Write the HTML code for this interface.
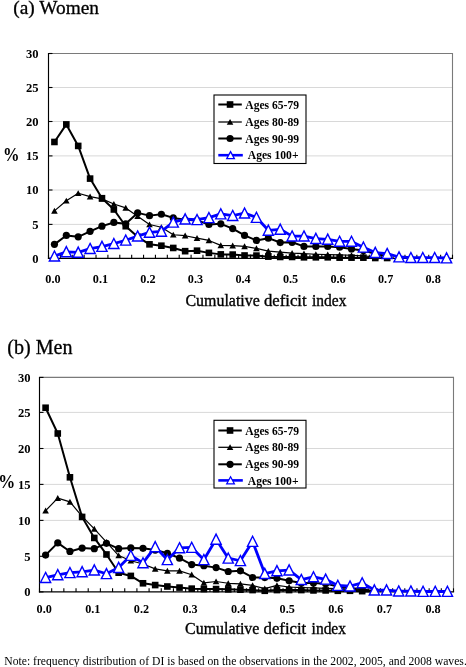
<!DOCTYPE html>
<html><head><meta charset="utf-8"><title>Cumulative deficit index</title>
<style>
html,body{margin:0;padding:0;background:#fff;}
body{width:466px;height:667px;overflow:hidden;position:relative;}
svg{position:absolute;left:0;top:0;display:block;}
text{font-family:"Liberation Serif","Times New Roman",serif;fill:#000;}
.yl{font-size:12.6px;font-weight:bold;}
.xl{font-size:12.2px;font-weight:bold;}
.lg{font-size:11.6px;font-weight:bold;}
.t1{font-size:19.35px;stroke:#000;stroke-width:0.3px;}
.t2{font-size:20.1px;stroke:#000;stroke-width:0.3px;}
.ax{font-size:16.1px;stroke:#000;stroke-width:0.35px;}
.pc{font-size:16.5px;font-weight:bold;}
.nt{font-size:11.65px;}
</style></head><body>
<svg width="466" height="667" viewBox="0 0 466 667">
<rect width="466" height="667" fill="#fff"/>
<text class="t1" x="13.3" y="14.4">(a) Women</text>
<line x1="49.50" y1="87.50" x2="452.50" y2="87.50" stroke="#d8d8d8" stroke-width="1"/>
<line x1="49.50" y1="121.50" x2="452.50" y2="121.50" stroke="#d8d8d8" stroke-width="1"/>
<line x1="49.50" y1="155.90" x2="452.50" y2="155.90" stroke="#d8d8d8" stroke-width="1"/>
<line x1="49.50" y1="190.00" x2="452.50" y2="190.00" stroke="#d8d8d8" stroke-width="1"/>
<line x1="49.50" y1="224.40" x2="452.50" y2="224.40" stroke="#d8d8d8" stroke-width="1"/>
<path d="M48.50 53.50H452.50V258.30" fill="none" stroke="#7a7a7a" stroke-width="1.1"/>
<path d="M48.50 53.00V258.90" fill="none" stroke="#000" stroke-width="1.15"/>
<path d="M47.90 258.30H453.10" fill="none" stroke="#000" stroke-width="1.3"/>
<line x1="48.50" y1="258.30" x2="52.50" y2="258.30" stroke="#000" stroke-width="1.1"/>
<line x1="48.50" y1="224.40" x2="52.50" y2="224.40" stroke="#000" stroke-width="1.1"/>
<line x1="48.50" y1="190.00" x2="52.50" y2="190.00" stroke="#000" stroke-width="1.1"/>
<line x1="48.50" y1="155.90" x2="52.50" y2="155.90" stroke="#000" stroke-width="1.1"/>
<line x1="48.50" y1="121.50" x2="52.50" y2="121.50" stroke="#000" stroke-width="1.1"/>
<line x1="48.50" y1="87.50" x2="52.50" y2="87.50" stroke="#000" stroke-width="1.1"/>
<line x1="48.50" y1="53.50" x2="52.50" y2="53.50" stroke="#000" stroke-width="1.1"/>
<line x1="48.50" y1="258.30" x2="48.50" y2="254.70" stroke="#000" stroke-width="1.1"/>
<line x1="60.38" y1="258.30" x2="60.38" y2="254.70" stroke="#000" stroke-width="1.1"/>
<line x1="72.26" y1="258.30" x2="72.26" y2="254.70" stroke="#000" stroke-width="1.1"/>
<line x1="84.15" y1="258.30" x2="84.15" y2="254.70" stroke="#000" stroke-width="1.1"/>
<line x1="96.03" y1="258.30" x2="96.03" y2="254.70" stroke="#000" stroke-width="1.1"/>
<line x1="107.91" y1="258.30" x2="107.91" y2="254.70" stroke="#000" stroke-width="1.1"/>
<line x1="119.79" y1="258.30" x2="119.79" y2="254.70" stroke="#000" stroke-width="1.1"/>
<line x1="131.68" y1="258.30" x2="131.68" y2="254.70" stroke="#000" stroke-width="1.1"/>
<line x1="143.56" y1="258.30" x2="143.56" y2="254.70" stroke="#000" stroke-width="1.1"/>
<line x1="155.44" y1="258.30" x2="155.44" y2="254.70" stroke="#000" stroke-width="1.1"/>
<line x1="167.32" y1="258.30" x2="167.32" y2="254.70" stroke="#000" stroke-width="1.1"/>
<line x1="179.21" y1="258.30" x2="179.21" y2="254.70" stroke="#000" stroke-width="1.1"/>
<line x1="191.09" y1="258.30" x2="191.09" y2="254.70" stroke="#000" stroke-width="1.1"/>
<line x1="202.97" y1="258.30" x2="202.97" y2="254.70" stroke="#000" stroke-width="1.1"/>
<line x1="214.85" y1="258.30" x2="214.85" y2="254.70" stroke="#000" stroke-width="1.1"/>
<line x1="226.74" y1="258.30" x2="226.74" y2="254.70" stroke="#000" stroke-width="1.1"/>
<line x1="238.62" y1="258.30" x2="238.62" y2="254.70" stroke="#000" stroke-width="1.1"/>
<line x1="250.50" y1="258.30" x2="250.50" y2="254.70" stroke="#000" stroke-width="1.1"/>
<line x1="262.38" y1="258.30" x2="262.38" y2="254.70" stroke="#000" stroke-width="1.1"/>
<line x1="274.26" y1="258.30" x2="274.26" y2="254.70" stroke="#000" stroke-width="1.1"/>
<line x1="286.15" y1="258.30" x2="286.15" y2="254.70" stroke="#000" stroke-width="1.1"/>
<line x1="298.03" y1="258.30" x2="298.03" y2="254.70" stroke="#000" stroke-width="1.1"/>
<line x1="309.91" y1="258.30" x2="309.91" y2="254.70" stroke="#000" stroke-width="1.1"/>
<line x1="321.79" y1="258.30" x2="321.79" y2="254.70" stroke="#000" stroke-width="1.1"/>
<line x1="333.68" y1="258.30" x2="333.68" y2="254.70" stroke="#000" stroke-width="1.1"/>
<line x1="345.56" y1="258.30" x2="345.56" y2="254.70" stroke="#000" stroke-width="1.1"/>
<line x1="357.44" y1="258.30" x2="357.44" y2="254.70" stroke="#000" stroke-width="1.1"/>
<line x1="369.32" y1="258.30" x2="369.32" y2="254.70" stroke="#000" stroke-width="1.1"/>
<line x1="381.21" y1="258.30" x2="381.21" y2="254.70" stroke="#000" stroke-width="1.1"/>
<line x1="393.09" y1="258.30" x2="393.09" y2="254.70" stroke="#000" stroke-width="1.1"/>
<line x1="404.97" y1="258.30" x2="404.97" y2="254.70" stroke="#000" stroke-width="1.1"/>
<line x1="416.85" y1="258.30" x2="416.85" y2="254.70" stroke="#000" stroke-width="1.1"/>
<line x1="428.74" y1="258.30" x2="428.74" y2="254.70" stroke="#000" stroke-width="1.1"/>
<line x1="440.62" y1="258.30" x2="440.62" y2="254.70" stroke="#000" stroke-width="1.1"/>
<line x1="452.50" y1="258.30" x2="452.50" y2="254.70" stroke="#000" stroke-width="1.1"/>
<polyline points="54.44,141.97 66.32,124.41 78.21,145.93 90.09,178.60 101.97,198.21 113.85,209.48 125.74,226.22 137.62,236.82 149.50,244.33 161.38,245.70 173.26,247.96 185.15,251.17 197.03,250.69 208.91,252.88 220.79,254.38 232.68,254.58 244.56,255.47 256.44,255.61 268.32,256.63 280.21,256.98 292.09,256.98 303.97,257.32 315.85,257.32 327.74,257.32 339.62,257.66 351.50,257.66 363.38,257.66 375.26,258.00 387.15,258.00" fill="none" stroke="#000" stroke-width="2.0" stroke-linejoin="round"/>
<rect x="51.14" y="138.67" width="6.6" height="6.6" fill="#000"/>
<rect x="63.02" y="121.11" width="6.6" height="6.6" fill="#000"/>
<rect x="74.91" y="142.63" width="6.6" height="6.6" fill="#000"/>
<rect x="86.79" y="175.30" width="6.6" height="6.6" fill="#000"/>
<rect x="98.67" y="194.91" width="6.6" height="6.6" fill="#000"/>
<rect x="110.55" y="206.18" width="6.6" height="6.6" fill="#000"/>
<rect x="122.44" y="222.92" width="6.6" height="6.6" fill="#000"/>
<rect x="134.32" y="233.52" width="6.6" height="6.6" fill="#000"/>
<rect x="146.20" y="241.03" width="6.6" height="6.6" fill="#000"/>
<rect x="158.08" y="242.40" width="6.6" height="6.6" fill="#000"/>
<rect x="169.96" y="244.66" width="6.6" height="6.6" fill="#000"/>
<rect x="181.85" y="247.87" width="6.6" height="6.6" fill="#000"/>
<rect x="193.73" y="247.39" width="6.6" height="6.6" fill="#000"/>
<rect x="205.61" y="249.57" width="6.6" height="6.6" fill="#000"/>
<rect x="217.49" y="251.08" width="6.6" height="6.6" fill="#000"/>
<rect x="229.38" y="251.28" width="6.6" height="6.6" fill="#000"/>
<rect x="241.26" y="252.17" width="6.6" height="6.6" fill="#000"/>
<rect x="253.14" y="252.31" width="6.6" height="6.6" fill="#000"/>
<rect x="265.02" y="253.33" width="6.6" height="6.6" fill="#000"/>
<rect x="276.91" y="253.68" width="6.6" height="6.6" fill="#000"/>
<rect x="288.79" y="253.68" width="6.6" height="6.6" fill="#000"/>
<rect x="300.67" y="254.02" width="6.6" height="6.6" fill="#000"/>
<rect x="312.55" y="254.02" width="6.6" height="6.6" fill="#000"/>
<rect x="324.44" y="254.02" width="6.6" height="6.6" fill="#000"/>
<rect x="336.32" y="254.36" width="6.6" height="6.6" fill="#000"/>
<rect x="348.20" y="254.36" width="6.6" height="6.6" fill="#000"/>
<rect x="360.08" y="254.36" width="6.6" height="6.6" fill="#000"/>
<rect x="371.96" y="254.70" width="6.6" height="6.6" fill="#000"/>
<rect x="383.85" y="254.70" width="6.6" height="6.6" fill="#000"/>
<polyline points="54.44,210.85 66.32,200.81 78.21,193.29 90.09,196.70 101.97,198.89 113.85,204.02 125.74,207.91 137.62,216.32 149.50,224.52 161.38,227.25 173.26,234.77 185.15,235.72 197.03,238.18 208.91,240.44 220.79,245.36 232.68,245.70 244.56,246.38 256.44,248.43 268.32,251.17 280.21,252.19 292.09,253.22 303.97,253.69 315.85,254.24 327.74,254.58 339.62,254.93 351.50,255.27 363.38,255.95 375.26,256.98 387.15,257.66" fill="none" stroke="#000" stroke-width="1.2" stroke-linejoin="round"/>
<path d="M54.44 207.75L57.74 213.65H51.14Z" fill="#000"/>
<path d="M66.32 197.71L69.62 203.61H63.02Z" fill="#000"/>
<path d="M78.21 190.19L81.51 196.09H74.91Z" fill="#000"/>
<path d="M90.09 193.60L93.39 199.50H86.79Z" fill="#000"/>
<path d="M101.97 195.79L105.27 201.69H98.67Z" fill="#000"/>
<path d="M113.85 200.92L117.15 206.82H110.55Z" fill="#000"/>
<path d="M125.74 204.81L129.04 210.71H122.44Z" fill="#000"/>
<path d="M137.62 213.22L140.92 219.12H134.32Z" fill="#000"/>
<path d="M149.50 221.42L152.80 227.32H146.20Z" fill="#000"/>
<path d="M161.38 224.15L164.68 230.05H158.08Z" fill="#000"/>
<path d="M173.26 231.67L176.56 237.57H169.96Z" fill="#000"/>
<path d="M185.15 232.62L188.45 238.52H181.85Z" fill="#000"/>
<path d="M197.03 235.08L200.33 240.98H193.73Z" fill="#000"/>
<path d="M208.91 237.34L212.21 243.24H205.61Z" fill="#000"/>
<path d="M220.79 242.26L224.09 248.16H217.49Z" fill="#000"/>
<path d="M232.68 242.60L235.98 248.50H229.38Z" fill="#000"/>
<path d="M244.56 243.28L247.86 249.18H241.26Z" fill="#000"/>
<path d="M256.44 245.33L259.74 251.23H253.14Z" fill="#000"/>
<path d="M268.32 248.07L271.62 253.97H265.02Z" fill="#000"/>
<path d="M280.21 249.09L283.51 254.99H276.91Z" fill="#000"/>
<path d="M292.09 250.12L295.39 256.02H288.79Z" fill="#000"/>
<path d="M303.97 250.59L307.27 256.50H300.67Z" fill="#000"/>
<path d="M315.85 251.14L319.15 257.04H312.55Z" fill="#000"/>
<path d="M327.74 251.48L331.04 257.38H324.44Z" fill="#000"/>
<path d="M339.62 251.83L342.92 257.73H336.32Z" fill="#000"/>
<path d="M351.50 252.17L354.80 258.07H348.20Z" fill="#000"/>
<path d="M363.38 252.85L366.68 258.75H360.08Z" fill="#000"/>
<path d="M375.26 253.88L378.56 259.78H371.96Z" fill="#000"/>
<path d="M387.15 254.56L390.45 260.46H383.85Z" fill="#000"/>
<polyline points="54.44,244.33 66.32,235.45 78.21,236.82 90.09,231.35 101.97,226.16 113.85,222.47 125.74,223.83 137.62,212.90 149.50,215.63 161.38,214.27 173.26,217.89 185.15,219.73 197.03,220.42 208.91,224.52 220.79,223.83 232.68,228.62 244.56,235.45 256.44,240.44 268.32,238.18 280.21,242.56 292.09,242.28 303.97,246.38 315.85,246.38 327.74,246.38 339.62,247.20 351.50,248.91 363.38,250.48 375.26,253.90 387.15,255.95" fill="none" stroke="#000" stroke-width="2.0" stroke-linejoin="round"/>
<circle cx="54.44" cy="244.33" r="3.6" fill="#000"/>
<circle cx="66.32" cy="235.45" r="3.6" fill="#000"/>
<circle cx="78.21" cy="236.82" r="3.6" fill="#000"/>
<circle cx="90.09" cy="231.35" r="3.6" fill="#000"/>
<circle cx="101.97" cy="226.16" r="3.6" fill="#000"/>
<circle cx="113.85" cy="222.47" r="3.6" fill="#000"/>
<circle cx="125.74" cy="223.83" r="3.6" fill="#000"/>
<circle cx="137.62" cy="212.90" r="3.6" fill="#000"/>
<circle cx="149.50" cy="215.63" r="3.6" fill="#000"/>
<circle cx="161.38" cy="214.27" r="3.6" fill="#000"/>
<circle cx="173.26" cy="217.89" r="3.6" fill="#000"/>
<circle cx="185.15" cy="219.73" r="3.6" fill="#000"/>
<circle cx="197.03" cy="220.42" r="3.6" fill="#000"/>
<circle cx="208.91" cy="224.52" r="3.6" fill="#000"/>
<circle cx="220.79" cy="223.83" r="3.6" fill="#000"/>
<circle cx="232.68" cy="228.62" r="3.6" fill="#000"/>
<circle cx="244.56" cy="235.45" r="3.6" fill="#000"/>
<circle cx="256.44" cy="240.44" r="3.6" fill="#000"/>
<circle cx="268.32" cy="238.18" r="3.6" fill="#000"/>
<circle cx="280.21" cy="242.56" r="3.6" fill="#000"/>
<circle cx="292.09" cy="242.28" r="3.6" fill="#000"/>
<circle cx="303.97" cy="246.38" r="3.6" fill="#000"/>
<circle cx="315.85" cy="246.38" r="3.6" fill="#000"/>
<circle cx="327.74" cy="246.38" r="3.6" fill="#000"/>
<circle cx="339.62" cy="247.20" r="3.6" fill="#000"/>
<circle cx="351.50" cy="248.91" r="3.6" fill="#000"/>
<circle cx="363.38" cy="250.48" r="3.6" fill="#000"/>
<circle cx="375.26" cy="253.90" r="3.6" fill="#000"/>
<circle cx="387.15" cy="255.95" r="3.6" fill="#000"/>
<polyline points="54.44,256.15 66.32,251.85 78.21,252.33 90.09,248.64 101.97,246.52 113.85,243.65 125.74,240.23 137.62,236.13 149.50,232.31 161.38,231.35 173.26,222.19 185.15,219.05 197.03,219.73 208.91,217.68 220.79,213.93 232.68,215.63 244.56,213.17 256.44,217.48 268.32,230.32 280.21,229.30 292.09,236.13 303.97,236.13 315.85,238.59 327.74,239.28 339.62,241.40 351.50,241.40 363.38,247.20 375.26,252.53 387.15,253.63 399.03,256.98 410.91,257.66 422.79,257.66 434.68,257.66 446.56,258.00" fill="none" stroke="#0000ff" stroke-width="2.8" stroke-linejoin="round"/>
<path d="M54.44 250.95L59.54 261.05H49.34Z" fill="#fff" stroke="#0000ff" stroke-width="1.4" stroke-linejoin="miter"/>
<path d="M66.32 246.65L71.42 256.75H61.22Z" fill="#fff" stroke="#0000ff" stroke-width="1.4" stroke-linejoin="miter"/>
<path d="M78.21 247.13L83.31 257.23H73.11Z" fill="#fff" stroke="#0000ff" stroke-width="1.4" stroke-linejoin="miter"/>
<path d="M90.09 243.44L95.19 253.54H84.99Z" fill="#fff" stroke="#0000ff" stroke-width="1.4" stroke-linejoin="miter"/>
<path d="M101.97 241.32L107.07 251.42H96.87Z" fill="#fff" stroke="#0000ff" stroke-width="1.4" stroke-linejoin="miter"/>
<path d="M113.85 238.45L118.95 248.55H108.75Z" fill="#fff" stroke="#0000ff" stroke-width="1.4" stroke-linejoin="miter"/>
<path d="M125.74 235.03L130.84 245.13H120.64Z" fill="#fff" stroke="#0000ff" stroke-width="1.4" stroke-linejoin="miter"/>
<path d="M137.62 230.93L142.72 241.03H132.52Z" fill="#fff" stroke="#0000ff" stroke-width="1.4" stroke-linejoin="miter"/>
<path d="M149.50 227.11L154.60 237.21H144.40Z" fill="#fff" stroke="#0000ff" stroke-width="1.4" stroke-linejoin="miter"/>
<path d="M161.38 226.15L166.48 236.25H156.28Z" fill="#fff" stroke="#0000ff" stroke-width="1.4" stroke-linejoin="miter"/>
<path d="M173.26 216.99L178.36 227.09H168.16Z" fill="#fff" stroke="#0000ff" stroke-width="1.4" stroke-linejoin="miter"/>
<path d="M185.15 213.85L190.25 223.95H180.05Z" fill="#fff" stroke="#0000ff" stroke-width="1.4" stroke-linejoin="miter"/>
<path d="M197.03 214.53L202.13 224.63H191.93Z" fill="#fff" stroke="#0000ff" stroke-width="1.4" stroke-linejoin="miter"/>
<path d="M208.91 212.48L214.01 222.58H203.81Z" fill="#fff" stroke="#0000ff" stroke-width="1.4" stroke-linejoin="miter"/>
<path d="M220.79 208.73L225.89 218.83H215.69Z" fill="#fff" stroke="#0000ff" stroke-width="1.4" stroke-linejoin="miter"/>
<path d="M232.68 210.43L237.78 220.53H227.58Z" fill="#fff" stroke="#0000ff" stroke-width="1.4" stroke-linejoin="miter"/>
<path d="M244.56 207.97L249.66 218.07H239.46Z" fill="#fff" stroke="#0000ff" stroke-width="1.4" stroke-linejoin="miter"/>
<path d="M256.44 212.28L261.54 222.38H251.34Z" fill="#fff" stroke="#0000ff" stroke-width="1.4" stroke-linejoin="miter"/>
<path d="M268.32 225.12L273.42 235.22H263.22Z" fill="#fff" stroke="#0000ff" stroke-width="1.4" stroke-linejoin="miter"/>
<path d="M280.21 224.10L285.31 234.20H275.11Z" fill="#fff" stroke="#0000ff" stroke-width="1.4" stroke-linejoin="miter"/>
<path d="M292.09 230.93L297.19 241.03H286.99Z" fill="#fff" stroke="#0000ff" stroke-width="1.4" stroke-linejoin="miter"/>
<path d="M303.97 230.93L309.07 241.03H298.87Z" fill="#fff" stroke="#0000ff" stroke-width="1.4" stroke-linejoin="miter"/>
<path d="M315.85 233.39L320.95 243.49H310.75Z" fill="#fff" stroke="#0000ff" stroke-width="1.4" stroke-linejoin="miter"/>
<path d="M327.74 234.08L332.84 244.18H322.64Z" fill="#fff" stroke="#0000ff" stroke-width="1.4" stroke-linejoin="miter"/>
<path d="M339.62 236.20L344.72 246.30H334.52Z" fill="#fff" stroke="#0000ff" stroke-width="1.4" stroke-linejoin="miter"/>
<path d="M351.50 236.20L356.60 246.30H346.40Z" fill="#fff" stroke="#0000ff" stroke-width="1.4" stroke-linejoin="miter"/>
<path d="M363.38 242.00L368.48 252.10H358.28Z" fill="#fff" stroke="#0000ff" stroke-width="1.4" stroke-linejoin="miter"/>
<path d="M375.26 247.33L380.36 257.43H370.16Z" fill="#fff" stroke="#0000ff" stroke-width="1.4" stroke-linejoin="miter"/>
<path d="M387.15 248.43L392.25 258.53H382.05Z" fill="#fff" stroke="#0000ff" stroke-width="1.4" stroke-linejoin="miter"/>
<path d="M399.03 251.78L404.13 261.88H393.93Z" fill="#fff" stroke="#0000ff" stroke-width="1.4" stroke-linejoin="miter"/>
<path d="M410.91 252.46L416.01 262.56H405.81Z" fill="#fff" stroke="#0000ff" stroke-width="1.4" stroke-linejoin="miter"/>
<path d="M422.79 252.46L427.89 262.56H417.69Z" fill="#fff" stroke="#0000ff" stroke-width="1.4" stroke-linejoin="miter"/>
<path d="M434.68 252.46L439.78 262.56H429.58Z" fill="#fff" stroke="#0000ff" stroke-width="1.4" stroke-linejoin="miter"/>
<path d="M446.56 252.80L451.66 262.90H441.46Z" fill="#fff" stroke="#0000ff" stroke-width="1.4" stroke-linejoin="miter"/>
<rect x="214.00" y="95.00" width="92.00" height="68.50" fill="#fff" stroke="#000" stroke-width="1.1"/>
<line x1="218.3" y1="104.5" x2="241.8" y2="104.5" stroke="#000" stroke-width="2"/>
<rect x="226.75" y="101.20" width="6.6" height="6.6" fill="#000"/>
<text class="lg" x="245.30" y="108.60">Ages 65-79</text>
<line x1="218.3" y1="122" x2="241.8" y2="122" stroke="#000" stroke-width="1.25"/>
<path d="M230.05 118.90L233.35 124.80H226.75Z" fill="#000"/>
<text class="lg" x="245.30" y="126.10">Ages 80-89</text>
<line x1="218.3" y1="138.5" x2="241.8" y2="138.5" stroke="#000" stroke-width="2"/>
<circle cx="230.05" cy="138.50" r="3.6" fill="#000"/>
<text class="lg" x="245.30" y="142.60">Ages 90-99</text>
<line x1="218.3" y1="155.2" x2="242.8" y2="155.2" stroke="#0000ff" stroke-width="2.6"/>
<path d="M230.55 151.60L234.35 158.60H226.75Z" fill="#fff" stroke="#0000ff" stroke-width="1.3"/>
<text class="lg" x="247.80" y="159.30">Ages 100+</text>
<text class="yl" text-anchor="end" x="38.60" y="262.50">0</text>
<text class="yl" text-anchor="end" x="38.60" y="228.60">5</text>
<text class="yl" text-anchor="end" x="38.60" y="194.20">10</text>
<text class="yl" text-anchor="end" x="38.60" y="160.10">15</text>
<text class="yl" text-anchor="end" x="38.60" y="125.70">20</text>
<text class="yl" text-anchor="end" x="38.60" y="91.70">25</text>
<text class="yl" text-anchor="end" x="38.60" y="57.70">30</text>
<text class="xl" text-anchor="middle" x="52.90" y="282.70">0.0</text>
<text class="xl" text-anchor="middle" x="100.43" y="282.70">0.1</text>
<text class="xl" text-anchor="middle" x="147.96" y="282.70">0.2</text>
<text class="xl" text-anchor="middle" x="195.49" y="282.70">0.3</text>
<text class="xl" text-anchor="middle" x="243.02" y="282.70">0.4</text>
<text class="xl" text-anchor="middle" x="290.55" y="282.70">0.5</text>
<text class="xl" text-anchor="middle" x="338.08" y="282.70">0.6</text>
<text class="xl" text-anchor="middle" x="385.61" y="282.70">0.7</text>
<text class="xl" text-anchor="middle" x="433.14" y="282.70">0.8</text>
<text class="pc" transform="translate(3.1,160.7) scale(1,1.13)">%</text>
<text class="ax" x="185.5" y="305.8" textLength="74.3" lengthAdjust="spacingAndGlyphs">Cumulative</text><text class="ax" x="264.0" y="305.8" textLength="42.6" lengthAdjust="spacingAndGlyphs">deficit</text><text class="ax" x="312.0" y="305.8" textLength="34.4" lengthAdjust="spacingAndGlyphs">index</text>
<text class="t2" x="7.2" y="354.4">(b) Men</text>
<line x1="40.50" y1="412.40" x2="453.50" y2="412.40" stroke="#d8d8d8" stroke-width="1"/>
<line x1="40.50" y1="448.50" x2="453.50" y2="448.50" stroke="#d8d8d8" stroke-width="1"/>
<line x1="40.50" y1="484.40" x2="453.50" y2="484.40" stroke="#d8d8d8" stroke-width="1"/>
<line x1="40.50" y1="520.40" x2="453.50" y2="520.40" stroke="#d8d8d8" stroke-width="1"/>
<line x1="40.50" y1="556.30" x2="453.50" y2="556.30" stroke="#d8d8d8" stroke-width="1"/>
<path d="M39.50 377.40H453.50V591.90" fill="none" stroke="#7a7a7a" stroke-width="1.1"/>
<path d="M39.50 376.90V592.50" fill="none" stroke="#000" stroke-width="1.15"/>
<path d="M38.90 591.90H454.10" fill="none" stroke="#000" stroke-width="1.3"/>
<line x1="39.50" y1="591.90" x2="43.50" y2="591.90" stroke="#000" stroke-width="1.1"/>
<line x1="39.50" y1="556.30" x2="43.50" y2="556.30" stroke="#000" stroke-width="1.1"/>
<line x1="39.50" y1="520.40" x2="43.50" y2="520.40" stroke="#000" stroke-width="1.1"/>
<line x1="39.50" y1="484.40" x2="43.50" y2="484.40" stroke="#000" stroke-width="1.1"/>
<line x1="39.50" y1="448.50" x2="43.50" y2="448.50" stroke="#000" stroke-width="1.1"/>
<line x1="39.50" y1="412.40" x2="43.50" y2="412.40" stroke="#000" stroke-width="1.1"/>
<line x1="39.50" y1="377.40" x2="43.50" y2="377.40" stroke="#000" stroke-width="1.1"/>
<line x1="39.50" y1="591.90" x2="39.50" y2="588.30" stroke="#000" stroke-width="1.1"/>
<line x1="51.68" y1="591.90" x2="51.68" y2="588.30" stroke="#000" stroke-width="1.1"/>
<line x1="63.85" y1="591.90" x2="63.85" y2="588.30" stroke="#000" stroke-width="1.1"/>
<line x1="76.03" y1="591.90" x2="76.03" y2="588.30" stroke="#000" stroke-width="1.1"/>
<line x1="88.21" y1="591.90" x2="88.21" y2="588.30" stroke="#000" stroke-width="1.1"/>
<line x1="100.38" y1="591.90" x2="100.38" y2="588.30" stroke="#000" stroke-width="1.1"/>
<line x1="112.56" y1="591.90" x2="112.56" y2="588.30" stroke="#000" stroke-width="1.1"/>
<line x1="124.74" y1="591.90" x2="124.74" y2="588.30" stroke="#000" stroke-width="1.1"/>
<line x1="136.91" y1="591.90" x2="136.91" y2="588.30" stroke="#000" stroke-width="1.1"/>
<line x1="149.09" y1="591.90" x2="149.09" y2="588.30" stroke="#000" stroke-width="1.1"/>
<line x1="161.26" y1="591.90" x2="161.26" y2="588.30" stroke="#000" stroke-width="1.1"/>
<line x1="173.44" y1="591.90" x2="173.44" y2="588.30" stroke="#000" stroke-width="1.1"/>
<line x1="185.62" y1="591.90" x2="185.62" y2="588.30" stroke="#000" stroke-width="1.1"/>
<line x1="197.79" y1="591.90" x2="197.79" y2="588.30" stroke="#000" stroke-width="1.1"/>
<line x1="209.97" y1="591.90" x2="209.97" y2="588.30" stroke="#000" stroke-width="1.1"/>
<line x1="222.15" y1="591.90" x2="222.15" y2="588.30" stroke="#000" stroke-width="1.1"/>
<line x1="234.32" y1="591.90" x2="234.32" y2="588.30" stroke="#000" stroke-width="1.1"/>
<line x1="246.50" y1="591.90" x2="246.50" y2="588.30" stroke="#000" stroke-width="1.1"/>
<line x1="258.68" y1="591.90" x2="258.68" y2="588.30" stroke="#000" stroke-width="1.1"/>
<line x1="270.85" y1="591.90" x2="270.85" y2="588.30" stroke="#000" stroke-width="1.1"/>
<line x1="283.03" y1="591.90" x2="283.03" y2="588.30" stroke="#000" stroke-width="1.1"/>
<line x1="295.21" y1="591.90" x2="295.21" y2="588.30" stroke="#000" stroke-width="1.1"/>
<line x1="307.38" y1="591.90" x2="307.38" y2="588.30" stroke="#000" stroke-width="1.1"/>
<line x1="319.56" y1="591.90" x2="319.56" y2="588.30" stroke="#000" stroke-width="1.1"/>
<line x1="331.74" y1="591.90" x2="331.74" y2="588.30" stroke="#000" stroke-width="1.1"/>
<line x1="343.91" y1="591.90" x2="343.91" y2="588.30" stroke="#000" stroke-width="1.1"/>
<line x1="356.09" y1="591.90" x2="356.09" y2="588.30" stroke="#000" stroke-width="1.1"/>
<line x1="368.26" y1="591.90" x2="368.26" y2="588.30" stroke="#000" stroke-width="1.1"/>
<line x1="380.44" y1="591.90" x2="380.44" y2="588.30" stroke="#000" stroke-width="1.1"/>
<line x1="392.62" y1="591.90" x2="392.62" y2="588.30" stroke="#000" stroke-width="1.1"/>
<line x1="404.79" y1="591.90" x2="404.79" y2="588.30" stroke="#000" stroke-width="1.1"/>
<line x1="416.97" y1="591.90" x2="416.97" y2="588.30" stroke="#000" stroke-width="1.1"/>
<line x1="429.15" y1="591.90" x2="429.15" y2="588.30" stroke="#000" stroke-width="1.1"/>
<line x1="441.32" y1="591.90" x2="441.32" y2="588.30" stroke="#000" stroke-width="1.1"/>
<line x1="453.50" y1="591.90" x2="453.50" y2="588.30" stroke="#000" stroke-width="1.1"/>
<polyline points="45.59,407.75 57.76,433.49 69.94,477.31 82.12,516.93 94.29,537.95 106.47,554.46 118.65,572.70 130.82,575.91 143.00,583.28 155.18,585.07 167.35,586.50 179.53,587.57 191.71,588.64 203.88,589.07 216.06,589.07 228.24,589.36 240.41,589.71 252.59,590.07 264.76,590.78 276.94,590.07 289.12,590.07 301.29,590.07 313.47,590.43 325.65,590.43 337.82,590.78 350.00,590.78 362.18,591.14 374.35,591.50" fill="none" stroke="#000" stroke-width="2.0" stroke-linejoin="round"/>
<rect x="42.29" y="404.44" width="6.6" height="6.6" fill="#000"/>
<rect x="54.46" y="430.19" width="6.6" height="6.6" fill="#000"/>
<rect x="66.64" y="474.01" width="6.6" height="6.6" fill="#000"/>
<rect x="78.82" y="513.63" width="6.6" height="6.6" fill="#000"/>
<rect x="90.99" y="534.65" width="6.6" height="6.6" fill="#000"/>
<rect x="103.17" y="551.16" width="6.6" height="6.6" fill="#000"/>
<rect x="115.35" y="569.40" width="6.6" height="6.6" fill="#000"/>
<rect x="127.52" y="572.61" width="6.6" height="6.6" fill="#000"/>
<rect x="139.70" y="579.98" width="6.6" height="6.6" fill="#000"/>
<rect x="151.88" y="581.77" width="6.6" height="6.6" fill="#000"/>
<rect x="164.05" y="583.20" width="6.6" height="6.6" fill="#000"/>
<rect x="176.23" y="584.27" width="6.6" height="6.6" fill="#000"/>
<rect x="188.41" y="585.34" width="6.6" height="6.6" fill="#000"/>
<rect x="200.58" y="585.77" width="6.6" height="6.6" fill="#000"/>
<rect x="212.76" y="585.77" width="6.6" height="6.6" fill="#000"/>
<rect x="224.94" y="586.06" width="6.6" height="6.6" fill="#000"/>
<rect x="237.11" y="586.41" width="6.6" height="6.6" fill="#000"/>
<rect x="249.29" y="586.77" width="6.6" height="6.6" fill="#000"/>
<rect x="261.46" y="587.49" width="6.6" height="6.6" fill="#000"/>
<rect x="273.64" y="586.77" width="6.6" height="6.6" fill="#000"/>
<rect x="285.82" y="586.77" width="6.6" height="6.6" fill="#000"/>
<rect x="297.99" y="586.77" width="6.6" height="6.6" fill="#000"/>
<rect x="310.17" y="587.13" width="6.6" height="6.6" fill="#000"/>
<rect x="322.35" y="587.13" width="6.6" height="6.6" fill="#000"/>
<rect x="334.52" y="587.49" width="6.6" height="6.6" fill="#000"/>
<rect x="346.70" y="587.49" width="6.6" height="6.6" fill="#000"/>
<rect x="358.88" y="587.84" width="6.6" height="6.6" fill="#000"/>
<rect x="371.05" y="588.20" width="6.6" height="6.6" fill="#000"/>
<polyline points="45.59,510.70 57.76,498.19 69.94,501.91 82.12,516.42 94.29,528.94 106.47,542.16 118.65,555.54 130.82,560.75 143.00,563.97 155.18,568.91 167.35,570.84 179.53,570.84 191.71,574.70 203.88,582.92 216.06,581.49 228.24,583.28 240.41,583.92 252.59,585.42 264.76,588.64 276.94,585.42 289.12,587.00 301.29,587.57 313.47,587.92 325.65,588.28 337.82,588.64 350.00,589.36 362.18,590.07 374.35,590.78" fill="none" stroke="#000" stroke-width="1.2" stroke-linejoin="round"/>
<path d="M45.59 507.60L48.89 513.50H42.29Z" fill="#000"/>
<path d="M57.76 495.09L61.06 500.99H54.46Z" fill="#000"/>
<path d="M69.94 498.81L73.24 504.71H66.64Z" fill="#000"/>
<path d="M82.12 513.32L85.42 519.22H78.82Z" fill="#000"/>
<path d="M94.29 525.84L97.59 531.74H90.99Z" fill="#000"/>
<path d="M106.47 539.06L109.77 544.96H103.17Z" fill="#000"/>
<path d="M118.65 552.44L121.95 558.34H115.35Z" fill="#000"/>
<path d="M130.82 557.65L134.12 563.55H127.52Z" fill="#000"/>
<path d="M143.00 560.87L146.30 566.77H139.70Z" fill="#000"/>
<path d="M155.18 565.81L158.48 571.71H151.88Z" fill="#000"/>
<path d="M167.35 567.74L170.65 573.64H164.05Z" fill="#000"/>
<path d="M179.53 567.74L182.83 573.64H176.23Z" fill="#000"/>
<path d="M191.71 571.60L195.01 577.50H188.41Z" fill="#000"/>
<path d="M203.88 579.82L207.18 585.72H200.58Z" fill="#000"/>
<path d="M216.06 578.39L219.36 584.29H212.76Z" fill="#000"/>
<path d="M228.24 580.18L231.54 586.08H224.94Z" fill="#000"/>
<path d="M240.41 580.82L243.71 586.72H237.11Z" fill="#000"/>
<path d="M252.59 582.32L255.89 588.22H249.29Z" fill="#000"/>
<path d="M264.76 585.54L268.06 591.44H261.46Z" fill="#000"/>
<path d="M276.94 582.32L280.24 588.22H273.64Z" fill="#000"/>
<path d="M289.12 583.90L292.42 589.80H285.82Z" fill="#000"/>
<path d="M301.29 584.47L304.59 590.37H297.99Z" fill="#000"/>
<path d="M313.47 584.82L316.77 590.72H310.17Z" fill="#000"/>
<path d="M325.65 585.18L328.95 591.08H322.35Z" fill="#000"/>
<path d="M337.82 585.54L341.12 591.44H334.52Z" fill="#000"/>
<path d="M350.00 586.25L353.30 592.15H346.70Z" fill="#000"/>
<path d="M362.18 586.97L365.48 592.87H358.88Z" fill="#000"/>
<path d="M374.35 587.68L377.65 593.58H371.05Z" fill="#000"/>
<polyline points="45.59,555.11 57.76,542.88 69.94,551.46 82.12,548.03 94.29,548.67 106.47,543.31 118.65,548.67 130.82,547.88 143.00,548.31 155.18,550.03 167.35,553.25 179.53,558.18 191.71,564.62 203.88,565.76 216.06,567.62 228.24,571.48 240.41,570.84 252.59,577.49 264.76,577.56 276.94,578.34 289.12,580.77 301.29,582.92 313.47,582.92 325.65,583.63 337.82,586.50 350.00,587.92 362.18,589.36 374.35,591.14" fill="none" stroke="#000" stroke-width="2.0" stroke-linejoin="round"/>
<circle cx="45.59" cy="555.11" r="3.6" fill="#000"/>
<circle cx="57.76" cy="542.88" r="3.6" fill="#000"/>
<circle cx="69.94" cy="551.46" r="3.6" fill="#000"/>
<circle cx="82.12" cy="548.03" r="3.6" fill="#000"/>
<circle cx="94.29" cy="548.67" r="3.6" fill="#000"/>
<circle cx="106.47" cy="543.31" r="3.6" fill="#000"/>
<circle cx="118.65" cy="548.67" r="3.6" fill="#000"/>
<circle cx="130.82" cy="547.88" r="3.6" fill="#000"/>
<circle cx="143.00" cy="548.31" r="3.6" fill="#000"/>
<circle cx="155.18" cy="550.03" r="3.6" fill="#000"/>
<circle cx="167.35" cy="553.25" r="3.6" fill="#000"/>
<circle cx="179.53" cy="558.18" r="3.6" fill="#000"/>
<circle cx="191.71" cy="564.62" r="3.6" fill="#000"/>
<circle cx="203.88" cy="565.76" r="3.6" fill="#000"/>
<circle cx="216.06" cy="567.62" r="3.6" fill="#000"/>
<circle cx="228.24" cy="571.48" r="3.6" fill="#000"/>
<circle cx="240.41" cy="570.84" r="3.6" fill="#000"/>
<circle cx="252.59" cy="577.49" r="3.6" fill="#000"/>
<circle cx="264.76" cy="577.56" r="3.6" fill="#000"/>
<circle cx="276.94" cy="578.34" r="3.6" fill="#000"/>
<circle cx="289.12" cy="580.77" r="3.6" fill="#000"/>
<circle cx="301.29" cy="582.92" r="3.6" fill="#000"/>
<circle cx="313.47" cy="582.92" r="3.6" fill="#000"/>
<circle cx="325.65" cy="583.63" r="3.6" fill="#000"/>
<circle cx="337.82" cy="586.50" r="3.6" fill="#000"/>
<circle cx="350.00" cy="587.92" r="3.6" fill="#000"/>
<circle cx="362.18" cy="589.36" r="3.6" fill="#000"/>
<circle cx="374.35" cy="591.14" r="3.6" fill="#000"/>
<polyline points="45.59,577.63 57.76,574.84 69.94,572.70 82.12,571.84 94.29,570.12 106.47,573.77 118.65,567.55 130.82,555.46 143.00,562.90 155.18,546.81 167.35,559.68 179.53,547.88 191.71,547.46 203.88,559.68 216.06,539.30 228.24,558.18 240.41,560.75 252.59,541.45 264.76,573.62 276.94,570.84 289.12,570.05 301.29,579.63 313.47,576.91 325.65,579.27 337.82,585.49 350.00,586.14 362.18,582.92 374.35,590.07 386.53,590.07 398.71,591.14 410.88,591.14 423.06,591.50 435.24,591.50 447.41,591.50" fill="none" stroke="#0000ff" stroke-width="2.8" stroke-linejoin="round"/>
<path d="M45.59 572.43L50.69 582.53H40.49Z" fill="#fff" stroke="#0000ff" stroke-width="1.4" stroke-linejoin="miter"/>
<path d="M57.76 569.64L62.86 579.74H52.66Z" fill="#fff" stroke="#0000ff" stroke-width="1.4" stroke-linejoin="miter"/>
<path d="M69.94 567.50L75.04 577.60H64.84Z" fill="#fff" stroke="#0000ff" stroke-width="1.4" stroke-linejoin="miter"/>
<path d="M82.12 566.64L87.22 576.74H77.02Z" fill="#fff" stroke="#0000ff" stroke-width="1.4" stroke-linejoin="miter"/>
<path d="M94.29 564.92L99.39 575.02H89.19Z" fill="#fff" stroke="#0000ff" stroke-width="1.4" stroke-linejoin="miter"/>
<path d="M106.47 568.57L111.57 578.67H101.37Z" fill="#fff" stroke="#0000ff" stroke-width="1.4" stroke-linejoin="miter"/>
<path d="M118.65 562.35L123.75 572.45H113.55Z" fill="#fff" stroke="#0000ff" stroke-width="1.4" stroke-linejoin="miter"/>
<path d="M130.82 550.26L135.92 560.36H125.72Z" fill="#fff" stroke="#0000ff" stroke-width="1.4" stroke-linejoin="miter"/>
<path d="M143.00 557.70L148.10 567.80H137.90Z" fill="#fff" stroke="#0000ff" stroke-width="1.4" stroke-linejoin="miter"/>
<path d="M155.18 541.61L160.28 551.71H150.08Z" fill="#fff" stroke="#0000ff" stroke-width="1.4" stroke-linejoin="miter"/>
<path d="M167.35 554.48L172.45 564.58H162.25Z" fill="#fff" stroke="#0000ff" stroke-width="1.4" stroke-linejoin="miter"/>
<path d="M179.53 542.68L184.63 552.78H174.43Z" fill="#fff" stroke="#0000ff" stroke-width="1.4" stroke-linejoin="miter"/>
<path d="M191.71 542.26L196.81 552.36H186.61Z" fill="#fff" stroke="#0000ff" stroke-width="1.4" stroke-linejoin="miter"/>
<path d="M203.88 554.48L208.98 564.58H198.78Z" fill="#fff" stroke="#0000ff" stroke-width="1.4" stroke-linejoin="miter"/>
<path d="M216.06 534.10L221.16 544.20H210.96Z" fill="#fff" stroke="#0000ff" stroke-width="1.4" stroke-linejoin="miter"/>
<path d="M228.24 552.98L233.34 563.08H223.14Z" fill="#fff" stroke="#0000ff" stroke-width="1.4" stroke-linejoin="miter"/>
<path d="M240.41 555.55L245.51 565.65H235.31Z" fill="#fff" stroke="#0000ff" stroke-width="1.4" stroke-linejoin="miter"/>
<path d="M252.59 536.25L257.69 546.35H247.49Z" fill="#fff" stroke="#0000ff" stroke-width="1.4" stroke-linejoin="miter"/>
<path d="M264.76 568.42L269.86 578.52H259.66Z" fill="#fff" stroke="#0000ff" stroke-width="1.4" stroke-linejoin="miter"/>
<path d="M276.94 565.64L282.04 575.74H271.84Z" fill="#fff" stroke="#0000ff" stroke-width="1.4" stroke-linejoin="miter"/>
<path d="M289.12 564.85L294.22 574.95H284.02Z" fill="#fff" stroke="#0000ff" stroke-width="1.4" stroke-linejoin="miter"/>
<path d="M301.29 574.43L306.39 584.53H296.19Z" fill="#fff" stroke="#0000ff" stroke-width="1.4" stroke-linejoin="miter"/>
<path d="M313.47 571.71L318.57 581.81H308.37Z" fill="#fff" stroke="#0000ff" stroke-width="1.4" stroke-linejoin="miter"/>
<path d="M325.65 574.07L330.75 584.17H320.55Z" fill="#fff" stroke="#0000ff" stroke-width="1.4" stroke-linejoin="miter"/>
<path d="M337.82 580.29L342.92 590.39H332.72Z" fill="#fff" stroke="#0000ff" stroke-width="1.4" stroke-linejoin="miter"/>
<path d="M350.00 580.94L355.10 591.04H344.90Z" fill="#fff" stroke="#0000ff" stroke-width="1.4" stroke-linejoin="miter"/>
<path d="M362.18 577.72L367.28 587.82H357.08Z" fill="#fff" stroke="#0000ff" stroke-width="1.4" stroke-linejoin="miter"/>
<path d="M374.35 584.87L379.45 594.97H369.25Z" fill="#fff" stroke="#0000ff" stroke-width="1.4" stroke-linejoin="miter"/>
<path d="M386.53 584.87L391.63 594.97H381.43Z" fill="#fff" stroke="#0000ff" stroke-width="1.4" stroke-linejoin="miter"/>
<path d="M398.71 585.94L403.81 596.04H393.61Z" fill="#fff" stroke="#0000ff" stroke-width="1.4" stroke-linejoin="miter"/>
<path d="M410.88 585.94L415.98 596.04H405.78Z" fill="#fff" stroke="#0000ff" stroke-width="1.4" stroke-linejoin="miter"/>
<path d="M423.06 586.30L428.16 596.40H417.96Z" fill="#fff" stroke="#0000ff" stroke-width="1.4" stroke-linejoin="miter"/>
<path d="M435.24 586.30L440.34 596.40H430.14Z" fill="#fff" stroke="#0000ff" stroke-width="1.4" stroke-linejoin="miter"/>
<path d="M447.41 586.30L452.51 596.40H442.31Z" fill="#fff" stroke="#0000ff" stroke-width="1.4" stroke-linejoin="miter"/>
<rect x="214.00" y="420.30" width="92.00" height="67.70" fill="#fff" stroke="#000" stroke-width="1.1"/>
<line x1="218.3" y1="430.5" x2="241.8" y2="430.5" stroke="#000" stroke-width="2"/>
<rect x="226.75" y="427.20" width="6.6" height="6.6" fill="#000"/>
<text class="lg" x="245.30" y="434.60">Ages 65-79</text>
<line x1="218.3" y1="447.3" x2="241.8" y2="447.3" stroke="#000" stroke-width="1.25"/>
<path d="M230.05 444.20L233.35 450.10H226.75Z" fill="#000"/>
<text class="lg" x="245.30" y="451.40">Ages 80-89</text>
<line x1="218.3" y1="464.3" x2="241.8" y2="464.3" stroke="#000" stroke-width="2"/>
<circle cx="230.05" cy="464.30" r="3.6" fill="#000"/>
<text class="lg" x="245.30" y="468.40">Ages 90-99</text>
<line x1="218.3" y1="480.4" x2="242.8" y2="480.4" stroke="#0000ff" stroke-width="2.6"/>
<path d="M230.55 476.80L234.35 483.80H226.75Z" fill="#fff" stroke="#0000ff" stroke-width="1.3"/>
<text class="lg" x="247.80" y="484.50">Ages 100+</text>
<text class="yl" text-anchor="end" x="30.60" y="596.10">0</text>
<text class="yl" text-anchor="end" x="30.60" y="560.50">5</text>
<text class="yl" text-anchor="end" x="30.60" y="524.60">10</text>
<text class="yl" text-anchor="end" x="30.60" y="488.60">15</text>
<text class="yl" text-anchor="end" x="30.60" y="452.70">20</text>
<text class="yl" text-anchor="end" x="30.60" y="416.60">25</text>
<text class="yl" text-anchor="end" x="30.60" y="381.60">30</text>
<text class="xl" text-anchor="middle" x="44.20" y="612.80">0.0</text>
<text class="xl" text-anchor="middle" x="92.80" y="612.80">0.1</text>
<text class="xl" text-anchor="middle" x="141.40" y="612.80">0.2</text>
<text class="xl" text-anchor="middle" x="190.00" y="612.80">0.3</text>
<text class="xl" text-anchor="middle" x="238.60" y="612.80">0.4</text>
<text class="xl" text-anchor="middle" x="287.20" y="612.80">0.5</text>
<text class="xl" text-anchor="middle" x="335.80" y="612.80">0.6</text>
<text class="xl" text-anchor="middle" x="384.40" y="612.80">0.7</text>
<text class="xl" text-anchor="middle" x="433.00" y="612.80">0.8</text>
<text class="pc" transform="translate(-1.8,488) scale(1.03,1.17)">%</text>
<text class="ax" x="185.1" y="633.5" textLength="74.3" lengthAdjust="spacingAndGlyphs">Cumulative</text><text class="ax" x="263.6" y="633.5" textLength="42.6" lengthAdjust="spacingAndGlyphs">deficit</text><text class="ax" x="311.6" y="633.5" textLength="34.4" lengthAdjust="spacingAndGlyphs">index</text>
<text class="nt" x="4.2" y="664.7" textLength="462.6" lengthAdjust="spacing">Note: frequency distribution of DI is based on the observations in the 2002, 2005, and 2008 waves.</text>
</svg>
</body></html>
